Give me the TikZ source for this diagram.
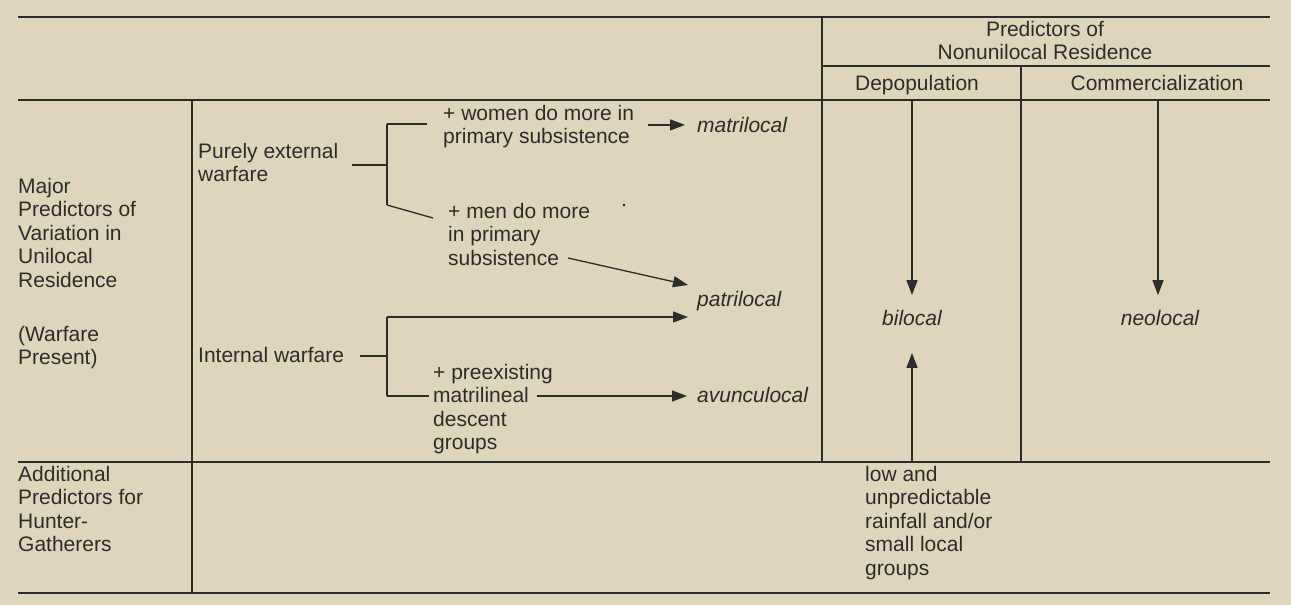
\documentclass[tikz,border=0pt]{standalone}
\usepackage{fontspec}
\setmainfont{Liberation Sans}
\usetikzlibrary{arrows.meta}
\definecolor{paper}{HTML}{DDD6BD}
\definecolor{ink}{HTML}{2E2C28}

\begin{document}
\begin{tikzpicture}[x=1pt, y=-1pt,
    txt/.style={anchor=north west, inner sep=0pt, align=left, text=ink,
                font=\fontsize{21}{23.5}\selectfont},
    res/.style={txt, font=\fontsize{21}{23.5}\selectfont\itshape},
    rule/.style={line width=2pt, draw=ink},
    link/.style={line width=1.3pt, draw=ink},
    arr/.style={link, -{Triangle[length=15pt, width=11pt]}}]
    \fill[paper] (0,0) rectangle (1291,605);
    \useasboundingbox (0,0) rectangle (1291,605);

    \draw[rule] (18,17) -- (1270,17);
    \draw[rule] (822,66) -- (1270,66);
    \draw[rule] (18,100) -- (1270,100);
    \draw[rule] (18,462) -- (1270,462);
    \draw[rule] (18,593) -- (1270,593);
    \draw[rule] (192,100) -- (192,593);
    \draw[rule] (822,17) -- (822,462);
    \draw[rule] (1021,66) -- (1021,462);

    \node[txt, anchor=north, align=center] (nonuni) at (1045,21) {Predictors of\\Nonunilocal Residence};
    \node[txt, anchor=base] (depop) at (917,90) {Depopulation};
    \node[txt, anchor=base] (commerc) at (1157,90) {Commercialization};

    \node[txt] (major) at (18,178) {Major\\Predictors of\\Variation in\\Unilocal\\Residence};
    \node[txt] (present) at (18,326) {(Warfare\\Present)};
    \node[txt] (hunter) at (18,466) {Additional\\Predictors for\\Hunter-\\Gatherers};

    \node[txt] (external) at (198,143) {Purely external\\warfare};
    \node[txt] (internal) at (198,347) {Internal warfare};
    \node[txt] (women) at (443,105) {+ women do more in\\primary subsistence};
    \node[txt] (men) at (448,203) {+ men do more\\in primary\\subsistence};
    \node[txt] (preexist) at (433,364) {+ preexisting\\matrilineal\\descent\\groups};
    \node[res] (matrilocal) at (697,117) {matrilocal};
    \node[res] (patrilocal) at (697,291) {patrilocal};
    \node[res] (avunculocal) at (697,387) {avunculocal};
    \node[res, anchor=center] (bilocal) at (912,318) {bilocal};
    \node[res, anchor=center] (neolocal) at (1160,318) {neolocal};
    \node[txt] (rainfall) at (865,466) {low and\\unpredictable\\rainfall and/or\\small local\\groups};

    \coordinate (extfork) at (387,165);
    \coordinate (exttop) at (387,124);
    \coordinate (extbot) at (387,205);
    \draw[link] ([xshift=14pt]extfork -| external.east) -- (extfork);
    \draw[link] (exttop) -- (extbot);
    \draw[link] (exttop) -- ([xshift=-16pt]exttop -| women.west);
    \draw[link] (extbot) -- ([shift={(-15,15)}]men.north west);
    \draw[arr] ([xshift=14pt]women.east |- matrilocal.west) -- ([xshift=-12pt]matrilocal.west);
    \draw[arr] ([shift={(120,55)}]men.north west) -- ([shift={(-9,-6)}]patrilocal.north west);

    \coordinate (intfork) at (387,356);
    \coordinate (inttop) at (387,317);
    \coordinate (intbot) at (387,396);
    \draw[link] ([xshift=16pt]intfork -| internal.east) -- (intfork);
    \draw[link] (inttop) -- (intbot);
    \draw[arr] (inttop) -- ([shift={(-9,26)}]patrilocal.north west);
    \draw[link] (intbot) -- ([xshift=-4pt]intbot -| preexist.west);
    \draw[arr] ([shift={(104,32)}]preexist.north west) -- ([xshift=-10pt]intbot -| avunculocal.west);

    \coordinate (depoptop) at (912,100);
    \coordinate (depopbot) at (912,462);
    \coordinate (commtop) at (1158,100);
    \draw[arr] (depoptop) -- ([yshift=15pt]bilocal.north);
    \draw[arr] (depopbot) -- ([yshift=-27pt]bilocal.south);
    \draw[arr] (commtop) -- ([yshift=15pt]commtop |- neolocal.north);

    \fill[blue!70!black] (624,205) circle (1.3pt);
\end{tikzpicture}
\end{document}
